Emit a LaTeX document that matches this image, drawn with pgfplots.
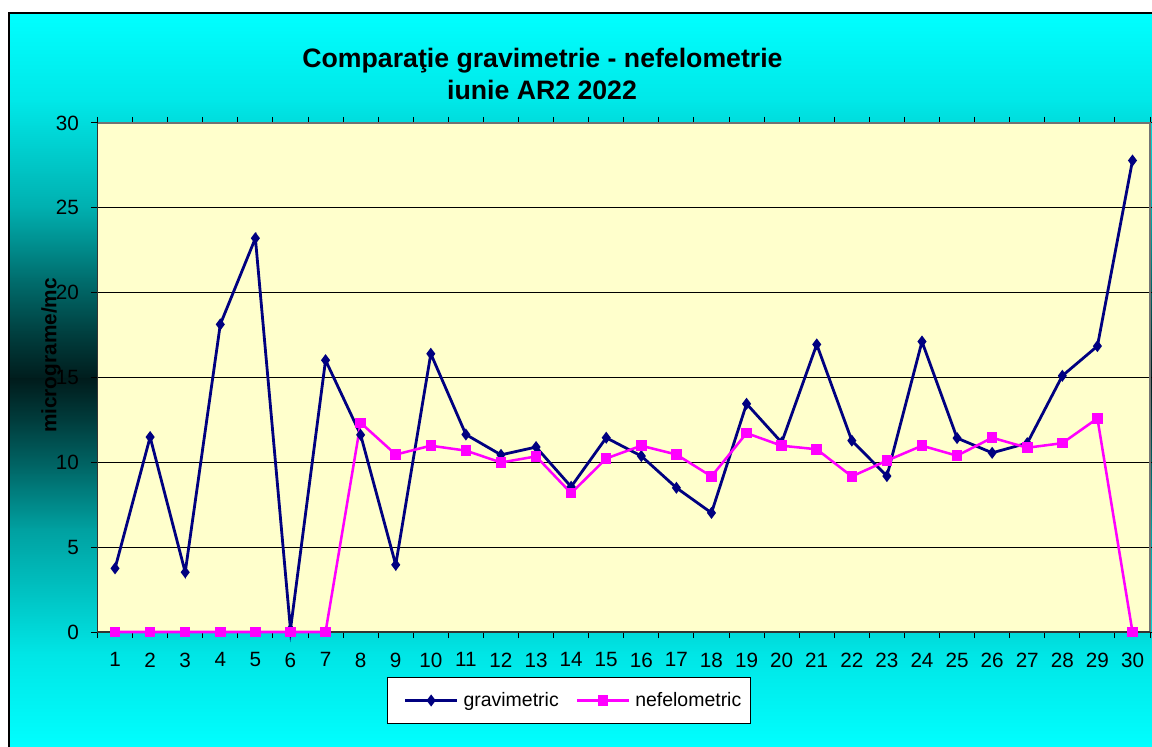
\documentclass[border=0pt]{standalone}
\usepackage{pgfplots}
\pgfplotsset{compat=1.18}
\usepackage{fontspec}
\setmainfont{Liberation Sans}
\definecolor{aqua}{RGB}{0,255,255}
\definecolor{plotbg}{RGB}{255,255,204}
\definecolor{grav}{RGB}{0,0,128}
\definecolor{nefe}{RGB}{255,0,255}

% one band of the chart-area gradient, y measured from the top in px
\newcommand\bgstrip[4]{%
  \fill[top color=aqua!#2!black,bottom color=aqua!#4!black]
    (8,{746-#1}) rectangle (1152,{745.4-#3});}

\begin{document}
\begin{tikzpicture}[x=0.75pt,y=0.75pt]
\useasboundingbox (0,0) rectangle (1152,746);
\fill[white] (0,0) rectangle (1152,746);
\bgstrip{13}{100}{100}{91}
\bgstrip{100}{91}{207}{69}
\bgstrip{207}{69}{279}{43}
\bgstrip{279}{43}{332}{25}
\bgstrip{332}{25}{379}{11}
\bgstrip{379}{11}{421}{24}
\bgstrip{421}{24}{475}{43}
\bgstrip{475}{43}{529}{63}
\bgstrip{529}{63}{600}{78}
\bgstrip{600}{78}{653}{90}
\bgstrip{653}{90}{746}{100}
\draw[black,line width=1.5pt] (1153,732.7) -- (8.6,732.7) -- (8.6,-1);

\node[anchor=base,font=\fontsize{20pt}{24pt}\selectfont\bfseries] at (542.5,678) {Comparaţie gravimetrie - nefelometrie};
\node[anchor=base,font=\fontsize{20pt}{24pt}\selectfont\bfseries] at (542,646) {iunie AR2 2022};
\node[rotate=90,font=\fontsize{15.6pt}{18pt}\selectfont\bfseries] at (51,390.5) {micrograme/mc};

\coordinate (plotorigin) at (97.5,114);
\begin{axis}[
  at={(plotorigin)}, anchor=south west, scale only axis,
  width=789.4pt, height=381.75pt,
  xmin=0.5, xmax=30.5, ymin=0, ymax=30,
  clip=false,
  axis background/.style={fill=plotbg},
  axis line style={draw=none},
  xtick={0.5,1.5,...,30.5}, xticklabels={},
  extra x ticks={1,2,...,30},
  extra x tick style={major tick length=0pt},
  ytick={0,5,...,30},
  tick align=outside, major tick length=4.5pt,
  tick style={black,line width=0.75pt},
  ymajorgrids, major grid style={black,line width=0.75pt},
  /pgf/number format/assume math mode=true,
  tick label style={font=\fontsize{15.5pt}{18pt}\selectfont},
  xticklabel style={yshift=-12pt},
  yticklabel style={xshift=-6pt},
  legend columns=2,
  legend style={draw=black, fill=white, line width=0.75pt,
    at={(0.448,-0.1346)}, anchor=center,
    font=\fontsize{14.6pt}{17pt}\selectfont,
    inner xsep=3.5pt, inner ysep=11.5pt,
    nodes={inner xsep=3.75pt, inner ysep=0pt},
    /tikz/every even column/.append style={column sep=0pt}},
  legend image code/.code={%
    \path (-9pt,0pt);
    \draw[mark repeat=2,mark phase=2,#1] plot coordinates {(0pt,0pt)(19.5pt,0pt)(39pt,0pt)};},
]
\draw[black!55,line width=0.9pt] (rel axis cs:0,1) -- (rel axis cs:1,1) -- (rel axis cs:1,0);
\draw[black!80,line width=0.9pt] (rel axis cs:0,1) -- (rel axis cs:0,0) -- (rel axis cs:1,0);

\addplot[color=grav, line width=2.1pt, mark=diamond*, mark size=2.8pt] coordinates {
  (1,3.75) (2,11.49) (3,3.52) (4,18.13) (5,23.21) (6,0.15) (7,16.02) (8,11.62) (9,3.96) (10,16.40)
  (11,11.64) (12,10.44) (13,10.90) (14,8.56) (15,11.45) (16,10.37) (17,8.50) (18,7.02) (19,13.45) (20,11.17)
  (21,16.95) (22,11.28) (23,9.19) (24,17.12) (25,11.43) (26,10.56) (27,11.13) (28,15.10) (29,16.85) (30,27.79)
};
\addlegendentry{gravimetric}
\addplot[color=nefe, line width=1.9pt, mark=square*, mark size=3pt] coordinates {
  (1,0) (2,0) (3,0) (4,0) (5,0) (6,0) (7,0) (8,12.33) (9,10.46) (10,10.98)
  (11,10.69) (12,9.99) (13,10.35) (14,8.18) (15,10.23) (16,10.98) (17,10.46) (18,9.17) (19,11.72) (20,10.98)
  (21,10.77) (22,9.17) (23,10.10) (24,10.98) (25,10.39) (26,11.45) (27,10.86) (28,11.13) (29,12.59) (30,0)
};
\addlegendentry{nefelometric}
\end{axis}
\end{tikzpicture}
\end{document}
